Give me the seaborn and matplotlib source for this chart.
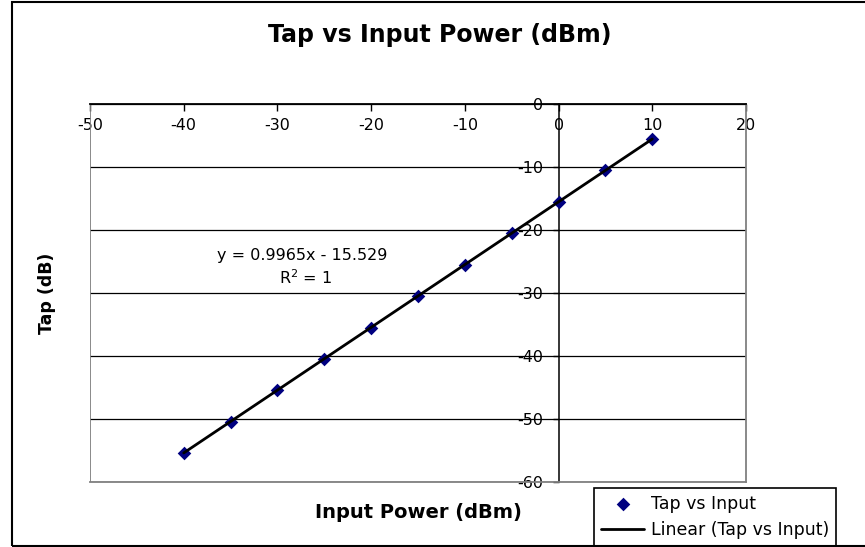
import numpy as np
import pandas as pd
import matplotlib.pyplot as plt
from matplotlib.patches import Rectangle
import seaborn as sns

# values
input_power = [-40, -35, -30, -25, -20, -15, -10, -5, 0, 5, 10]
tap = [-55.4, -50.4, -45.4, -40.4, -35.5, -30.5, -25.5, -20.5, -15.5, -10.5, -5.6]
x_ticks = [-50, -40, -30, -20, -10, 0, 10, 20]
y_ticks = [0, -10, -20, -30, -40, -50, -60]
eq_text = 'y = 0.9965x - 15.529'
r2_text = 'R$^2$ = 1'

df = pd.DataFrame({'Input Power (dBm)': input_power, 'Tap (dB)': tap})

sns.set_theme(style='white')
plt.rcParams['font.family'] = ['DejaVu Sans']
plt.rcParams['mathtext.fontset'] = 'dejavusans'
plt.rcParams['axes.unicode_minus'] = False
plt.rcParams['text.color'] = 'black'
plt.rcParams['axes.labelcolor'] = 'black'

W, H = 865, 547
fig = plt.figure(figsize=(W / 100, H / 100), dpi=100)
fig.patch.set_facecolor('white')
ax = fig.add_axes([90 / W, 1 - 482 / H, (746 - 90) / W, (482 - 104) / H])

# trendline + points
sns.regplot(data=df, x='Input Power (dBm)', y='Tap (dB)', scatter=False, ci=None,
            truncate=True, color='black', line_kws={'lw': 2.0, 'zorder': 4},
            label='Linear (Tap vs Input)', ax=ax)
sns.scatterplot(data=df, x='Input Power (dBm)', y='Tap (dB)', marker='D', color='#000080',
                s=48, linewidth=0, label='Tap vs Input', ax=ax, zorder=3)

ax.set_xlim(-50, 20)
ax.set_ylim(-60, 0)
ax.set_xticks(x_ticks)
ax.set_yticks(y_ticks)

# excel style axes: y axis crosses at x=0, x axis sits on top
ax.spines['left'].set_position(('data', 0))
ax.spines['left'].set_color('black')
ax.spines['left'].set_linewidth(1.1)
ax.spines['top'].set_color('black')
ax.spines['top'].set_linewidth(1.3)
for s in ['right', 'bottom']:
    ax.spines[s].set_visible(True)
    ax.spines[s].set_color('#808080')
    ax.spines[s].set_linewidth(1.3)
ax.axvline(-50, color='#808080', lw=1.3, zorder=1)

ax.xaxis.set_ticks_position('top')
ax.yaxis.set_ticks_position('left')
ax.tick_params(axis='x', direction='in', length=5, width=1, color='black',
               pad=-21, labelsize=11.5, labelcolor='black')
ax.tick_params(axis='y', direction='out', length=4, width=1, color='black',
               pad=7, labelsize=11.5, labelcolor='black')

ax.yaxis.grid(True, color='black', lw=0.9)
ax.xaxis.grid(False)

ax.set_xlabel('Input Power (dBm)', fontsize=14, fontweight='bold', va='center')
ax.xaxis.set_label_coords(0.5, -0.082)
ax.set_ylabel('Tap (dB)', fontsize=12.5, fontweight='bold', va='center')
ax.yaxis.set_label_coords(-0.066, 0.5)

fig.suptitle('Tap vs Input Power (dBm)', x=440 / W, y=1 - 35 / H, va='center',
             fontsize=17, fontweight='bold', color='black')

ax.text(-27.4, -24.0, eq_text, ha='center', va='center', fontsize=11.5)
ax.text(-27.0, -27.6, r2_text, ha='center', va='center', fontsize=11.5)

handles, labels = ax.get_legend_handles_labels()
order = [labels.index('Tap vs Input'), labels.index('Linear (Tap vs Input)')]
leg = ax.legend([handles[i] for i in order], [labels[i] for i in order],
                loc='upper left', bbox_to_anchor=(594 / W, 1 - 488 / H),
                bbox_transform=fig.transFigure, frameon=True, fancybox=False,
                edgecolor='black', framealpha=1, fontsize=12.5, borderaxespad=0,
                borderpad=0.4, handlelength=2.5, handletextpad=0.4, labelspacing=0.45)
leg.get_frame().set_linewidth(1.2)

# chart area border
fig.patches.append(Rectangle((12 / W, 1 - 546 / H), (870 - 12) / W, (546 - 2) / H,
                             transform=fig.transFigure, fill=False, ec='black', lw=1.5))

fig.savefig('out.png', dpi=100)
